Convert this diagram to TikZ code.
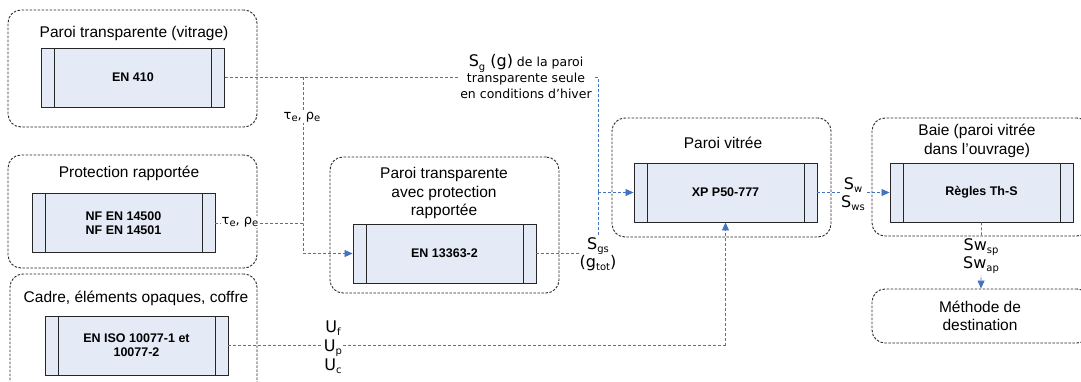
\documentclass[tikz,border=0pt]{standalone}
\usepackage{fontspec}
\setmainfont{Liberation Sans}
\newfontfamily\vfont{DejaVu Sans}
\usetikzlibrary{arrows.meta}
\definecolor{link}{RGB}{68,114,196}
\definecolor{boxfill}{RGB}{228,235,246}
\definecolor{frame}{RGB}{40,40,40}
\newcommand\lowsub[1]{\raisebox{-0.35ex}{\fontsize{10}{10}\selectfont #1}}
\newcommand\bigS[1]{{\fontsize{16}{16}\selectfont #1}}
\begin{document}
\begin{tikzpicture}[x=1pt,y=-1pt,
  group/.style={draw=frame, line width=0.9pt, dash pattern=on 2.5pt off 1.5pt,
    rounded corners=13pt, inner sep=0pt},
  title/.style={font=\fontsize{15.5}{18.5}\selectfont, align=center, inner sep=0pt},
  stdbox/.style={draw=black!85, fill=boxfill, line width=0.9pt, inner sep=0pt,
    minimum width=183pt, minimum height=59pt, align=center,
    font=\bfseries\fontsize{12.5}{14}\selectfont,
    path picture={\draw[black!85, line width=0.9pt]
      ([xshift=13pt]path picture bounding box.north west) -- ([xshift=13pt]path picture bounding box.south west)
      ([xshift=-13pt]path picture bounding box.north east) -- ([xshift=-13pt]path picture bounding box.south east);}},
  link/.style={draw=link, line width=0.8pt, dash pattern=on 3pt off 2pt},
  tip/.style={link, -{Triangle[length=8pt,width=7pt]}},
  lbl/.style={fill=white, inner sep=1pt, align=center, font=\vfont\fontsize{13}{16}\selectfont},
]
\useasboundingbox (0,0) rectangle (1081,382);
\clip (0,0) rectangle (1081,382);

% dashed groups
\node[group, minimum width=249pt, minimum height=117pt] (gA) at (132.5,68.5) {};
\node[group, minimum width=249pt, minimum height=113pt] (gB) at (132.5,211.5) {};
\node[group, minimum width=247pt, minimum height=121pt] (gC) at (133.5,334.5) {};
\node[group, minimum width=229pt, minimum height=136pt] (gD) at (444.5,225) {};
\node[group, minimum width=219pt, minimum height=119pt] (gE) at (721.5,177.5) {};
\node[group, minimum width=218pt, minimum height=118pt] (gF) at (981,177) {};
\node[group, minimum width=218pt, minimum height=54pt] (gG) at (981,316) {};
\node[title] (tG) at (980,316) {Méthode de\\destination};

% group titles
\node[title] (tA) at (134,33) {Paroi transparente (vitrage)};
\node[title] (tB) at (129,173) {Protection rapportée};
\node[title] (tC) at (136,298) {Cadre, éléments opaques, coffre};
\node[title] (tD) at (444,193) {Paroi transparente\\avec protection\\rapportée};
\node[title] (tE) at (723,143) {Paroi vitrée};
\node[title] (tF) at (977,141) {Baie (paroi vitrée\\dans l’ouvrage)};

% standards
\node[stdbox] (nA) at (133,77.5) {EN 410};
\node[stdbox] (nB) at (123.5,223) {NF EN 14500\\NF EN 14501};
\node[stdbox] (nC) at (136.5,345.5) {EN ISO 10077-1 et\\10077-2};
\node[stdbox] (nD) at (444.5,253.5) {EN 13363-2};
\node[stdbox] (nE) at (725.5,192.5) {XP P50-777};
\node[stdbox] (nF) at (981.5,192.5) {Règles Th-S};

% junctions
\coordinate (jS) at (598,77.5);
\coordinate (jE) at (598,192.5);
\coordinate (jT) at (303,77.5);
\coordinate (jB) at (303,223);
\coordinate (jD) at (303,253.5);
\coordinate (jG) at (598,253.5);
\coordinate (jU) at (725.5,345.5);

% connectors
\draw[link] (nA.east) -- (jS) -- (jE);
\draw[tip] (jE) -- (nE.west);
\draw[link] (jT) -- (jB) -- (jD);
\draw[tip] (jD) -- (nD.west);
\draw[link] (nB.east) -- (jB);
\draw[link] (nD.east) -- (jG) -- (jE);
\draw[tip] (nE.east) -- (nF.west);
\draw[tip] (nF.south) -- (gG.north);
\draw[link] (nC.east) -- (jU);
\draw[tip] (jU) -- (nE.south);

% quantities
\node[lbl] (lT1) at (302,117) {τ\lowsub{e}, ρ\lowsub{e}};
\node[lbl] (lT2) at (240,222) {τ\lowsub{e}, ρ\lowsub{e}};
\node[lbl, font=\vfont\fontsize{12.5}{16}\selectfont] (lSg) at (526,77)
  {\bigS{S\lowsub{g} (g)} de la paroi\\transparente seule\\en conditions d’hiver};
\node[lbl, font=\vfont\fontsize{16}{15}\selectfont] (lSgs) at (598,254) {S\lowsub{gs}\\(g\lowsub{tot})};
\node[lbl, font=\vfont\fontsize{16}{18}\selectfont] (lSw) at (853,194) {S\lowsub{w}\\S\lowsub{ws}};
\node[lbl, font=\vfont\fontsize{16}{18}\selectfont] (lSwp) at (981,256) {Sw\lowsub{sp}\\Sw\lowsub{ap}};
\node[lbl, font=\vfont\fontsize{16}{19}\selectfont] (lU) at (333,347) {U\lowsub{f}\\U\lowsub{p}\\U\lowsub{c}};
\end{tikzpicture}
\end{document}
